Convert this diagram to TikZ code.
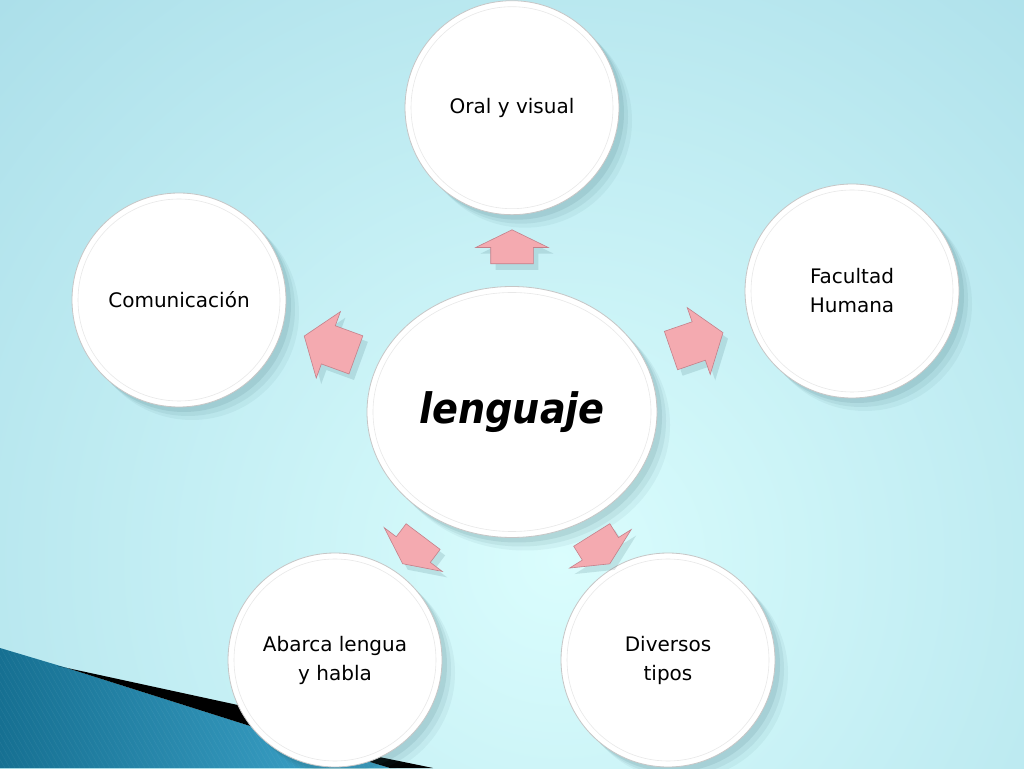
\documentclass[tikz,border=0pt]{standalone}
\usepackage{fontspec}
\setmainfont{DejaVu Sans}
\usetikzlibrary{shapes.geometric,shapes.arrows,shadows,positioning}

\definecolor{bgin}{RGB}{218,253,253}
\definecolor{bgout}{RGB}{170,222,233}
\definecolor{shadowc}{RGB}{40,90,100}
\definecolor{arrowpink}{RGB}{244,170,176}
\definecolor{arrowedge}{RGB}{196,128,138}
\definecolor{dkblue}{RGB}{22,112,146}
\definecolor{ltblue}{RGB}{64,168,206}

\begin{document}
\begin{tikzpicture}[x=1pt,y=1pt,
  bubble/.style={circle,fill=white,draw=gray!45,line width=.8pt,
    minimum size=214pt,inner sep=0pt,align=center,
    font=\fontsize{20}{29}\selectfont,
    drop shadow={shadow xshift=13pt,shadow yshift=-13pt,opacity=.06,fill=shadowc},
    drop shadow={shadow xshift=9pt,shadow yshift=-9pt,opacity=.08,fill=shadowc},
    drop shadow={shadow xshift=5pt,shadow yshift=-5pt,opacity=.10,fill=shadowc}},
  core/.style={bubble,ellipse,minimum width=290pt,minimum height=251pt,
    font=\fontsize{42}{48}\selectfont\bfseries\itshape},
  pinkarrow/.style={single arrow,fill=arrowpink,draw=arrowedge,line width=.6pt,
    inner sep=0pt,single arrow head extend=15pt,
    drop shadow={shadow xshift=5pt,shadow yshift=-6pt,opacity=.15,fill=shadowc}},
  shortarrow/.style={pinkarrow,minimum height=34pt,single arrow tip angle=128},
  longarrow/.style={pinkarrow,minimum height=55pt,single arrow tip angle=108}]

\useasboundingbox (0,0) rectangle (1024,768);

% background
\begin{scope}
  \clip (0,0) rectangle (1024,768);
  \shade[inner color=bgin,outer color=bgout] (560,208) circle (820);
  \shade[left color=dkblue,right color=ltblue]
    (0,120) -- (67,100) -- (247,43) -- (390,0) -- (0,0) -- cycle;
  \clip (0,120) -- (67,100) -- (247,43) -- (390,0) -- (0,0) -- cycle;
  \foreach \i in {-200,-195,...,400}
    \draw[white,opacity=.07] (\i,130) -- (\i+75,0);
\end{scope}
\fill[black] (58,102) -- (247,61) -- (350,17) -- (433,0) -- (390,0)
  -- (247,43) -- (67,100) -- cycle;

% circles
\node[core] (lang) at (512,356) {\scalebox{.91}[1]{lenguaje}};
\node[bubble] (oral) [above=71pt of lang] {Oral y visual};
\node[bubble] (com) at (179,468) {Comunicación};
\node[bubble] (fac) at (852,477) {Facultad\\Humana};
\node[bubble] (abar) at (335,108) {Abarca lengua\\y habla};
\node[bubble] (div) at (668,108) {Diversos\\tipos};

% inner rims
\foreach \n in {oral,com,fac,abar,div}
  \draw[gray!18,line width=.6pt] (\n.center) circle (101);
\draw[gray!18,line width=.6pt] (lang.center) ellipse (139 and 119.5);

% arrows
\node[shortarrow,rotate=90] (a1) at (512,516) {\rule{0pt}{42pt}};
\node[longarrow,rotate=160] (a2) at (337,420) {\rule{0pt}{40pt}};
\node[longarrow,rotate=19] (a3) at (690,424) {\rule{0pt}{40pt}};
\node[shortarrow,rotate=233] (a4) at (416,222) {\rule{0pt}{42pt}};
\node[shortarrow,rotate=-58] (a5) at (598,223) {\rule{0pt}{42pt}};

\end{tikzpicture}
\end{document}
